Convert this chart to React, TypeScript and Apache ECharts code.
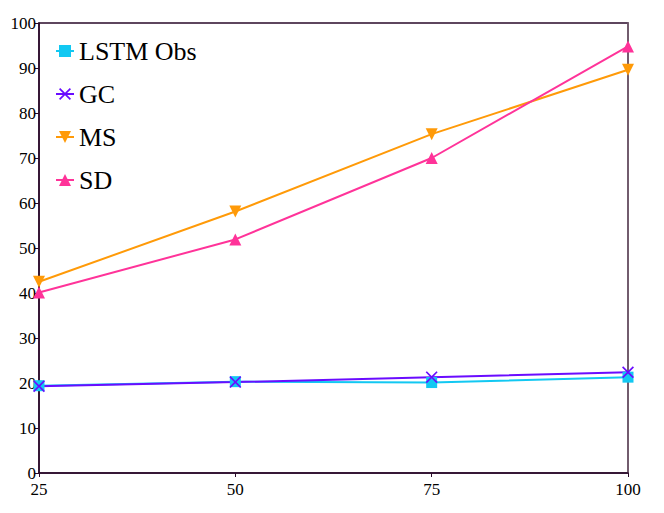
import React, { useEffect, useRef } from "react";
import * as echarts from "echarts";

const xValues = [25, 50, 75, 100];
const lstmObs = [19.4, 20.3, 20.1, 21.3];
const gc = [19.3, 20.2, 21.3, 22.4];
const ms = [42.5, 58.1, 75.3, 89.6];
const sd = [40.1, 51.9, 70.0, 94.8];

const seriesNames = ["LSTM Obs", "GC", "MS", "SD"];
const seriesColors = ["#12c8f2", "#6a0cff", "#ff9a08", "#ff3399"];

const crossPath =
  "path://M0,1 L1,0 L5,4 L9,0 L10,1 L6,5 L10,9 L9,10 L5,6 L1,10 L0,9 L4,5 Z";
const downTri = "path://M0,0 L10,0 L5,10 Z";

export default function App() {
  const ref = useRef<HTMLDivElement>(null);
  useEffect(() => {
    if (!ref.current) return;
    const chart = echarts.init(ref.current, null, { renderer: "svg" });
    const font = "Liberation Serif";
    const dark = "#2a0a2a";
    const mk = (name: string, data: number[], color: string, symbol: string, size: number) => ({
      name,
      type: "line",
      data: xValues.map((x, i) => [x, data[i]]),
      symbol,
      symbolSize: size,
      showAllSymbol: true,
      lineStyle: { color, width: 2 },
      itemStyle: { color },
      clip: false,
    });
    chart.setOption({
      animation: false,
      backgroundColor: "#ffffff",
      grid: {
        left: 39,
        top: 23,
        right: 36,
        bottom: 40,
        show: true,
        borderColor: dark,
        borderWidth: 1.5,
        backgroundColor: "transparent",
      },
      legend: {
        left: 50,
        top: 33,
        orient: "vertical",
        itemWidth: 18,
        itemHeight: 15,
        itemGap: 17,
        data: seriesNames,
        textStyle: { fontFamily: font, fontSize: 26, color: "#000", lineHeight: 26 },
      },
      xAxis: {
        type: "value",
        min: 25,
        max: 100,
        interval: 25,
        position: "bottom",
        axisLine: { show: true, lineStyle: { color: dark, width: 1.5 } },
        axisTick: { show: true, length: 4, lineStyle: { color: dark } },
        axisLabel: { fontFamily: font, fontSize: 17, color: "#000", margin: 8 },
        splitLine: { show: false },
      },
      yAxis: [
        {
          type: "value",
          min: 0,
          max: 100,
          interval: 10,
          position: "left",
          axisLine: { show: true, lineStyle: { color: dark, width: 1.5 } },
          axisTick: { show: true, length: 4, lineStyle: { color: dark } },
          axisLabel: { fontFamily: font, fontSize: 17, color: "#000", margin: 3 },
          splitLine: { show: false },
        },
        {
          type: "value",
          min: 0,
          max: 100,
          interval: 10,
          position: "right",
          axisLine: { show: true, lineStyle: { color: "#7a6474", width: 1.5 } },
          axisTick: { show: false },
          axisLabel: { show: false },
          splitLine: { show: false },
        },
      ],
      series: [
        mk(seriesNames[0], lstmObs, seriesColors[0], "rect", 11),
        mk(seriesNames[1], gc, seriesColors[1], crossPath, 12),
        mk(seriesNames[2], ms, seriesColors[2], downTri, 12),
        mk(seriesNames[3], sd, seriesColors[3], "triangle", 12),
      ],
    });
    return () => chart.dispose();
  }, []);
  return (
    <div
      ref={ref}
      style={{ position: "fixed", left: 0, top: 0, width: 664, height: 513, background: "#fff" }}
    />
  );
}
